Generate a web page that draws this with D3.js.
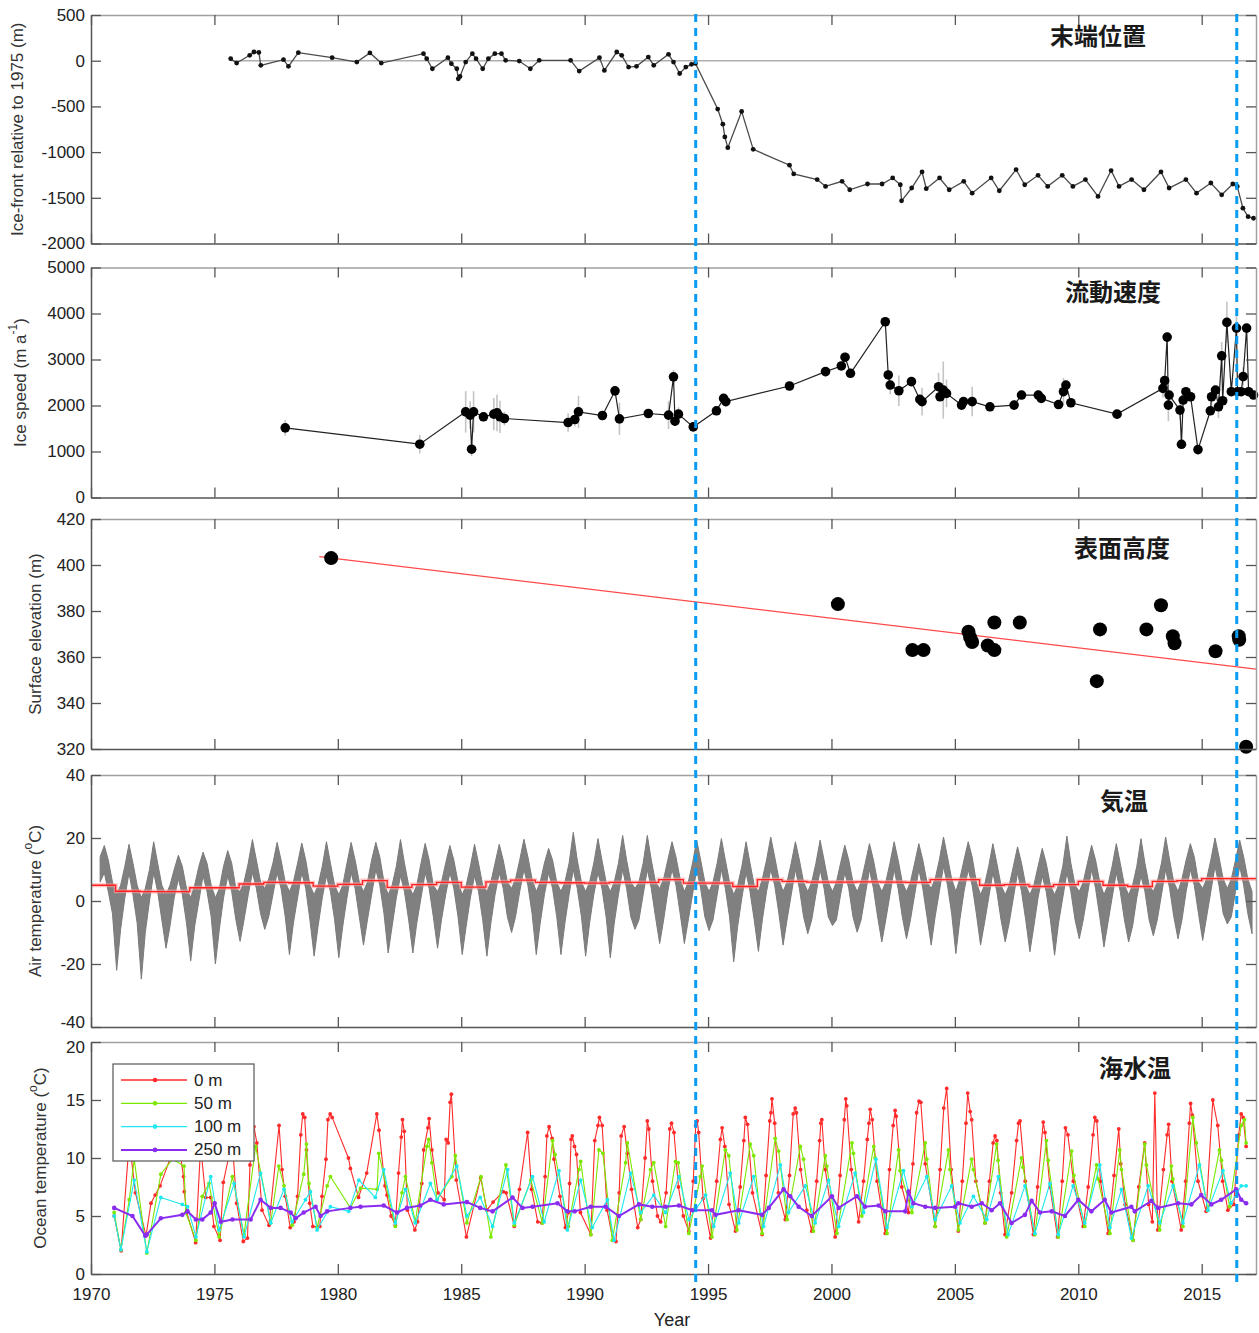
<!DOCTYPE html>
<html>
<head>
<meta charset="utf-8">
<script src="https://cdn.jsdelivr.net/npm/d3@7"></script>
<style>
  body { margin: 0; background: #fff; }
  text { font-family: "Liberation Sans", Arial, Helvetica, sans-serif; }
  .jp { font-family: "Noto Sans CJK JP", "Noto Sans CJK SC", sans-serif; font-weight: 700; }
</style>
</head>
<body>
<svg id="fig" width="1259" height="1333"></svg>
<script>
// ---------- data ----------
const xTickYears = [1970, 1975, 1980, 1985, 1990, 1995, 2000, 2005, 2010, 2015];
const eventYears = [1994.5, 2016.42];

// ice-front position relative to 1975 (m): [year, value]
const iceFront = [
  [1975.66,22],[1975.9,-26],[1976.43,59],[1976.6,95],[1976.8,90],[1976.88,-51],[1977.8,11],[1978.0,-62],
  [1978.4,88],[1979.77,33],[1980.77,-15],[1981.3,85],[1981.76,-26],[1983.47,77],[1983.6,22],[1983.83,-88],
  [1984.46,33],[1984.6,-33],[1984.82,-88],[1984.88,-198],[1984.95,-173],[1985.18,-15],[1985.45,77],[1985.6,22],
  [1985.87,-88],[1986.1,22],[1986.36,77],[1986.63,77],[1986.8,4],[1987.35,-4],[1987.8,-88],[1988.16,4],
  [1989.43,4],[1989.78,-114],[1990.6,33],[1990.8,-106],[1991.3,95],[1991.5,59],[1991.78,-70],[1992.1,-62],
  [1992.58,40],[1992.8,-51],[1993.4,70],[1993.6,-15],[1993.85,-140],[1994.1,-70],[1994.33,-40],[1994.49,-30],
  [1995.39,-529],[1995.6,-695],[1995.68,-834],[1995.8,-952],[1996.36,-555],[1996.83,-970],[1998.3,-1143],
  [1998.47,-1239],[1999.42,-1301],[1999.76,-1375],[2000.43,-1320],[2000.74,-1412],[2001.46,-1349],[2002.05,-1349],
  [2002.48,-1283],[2002.79,-1357],[2002.84,-1533],[2003.25,-1393],[2003.67,-1217],[2003.84,-1400],[2004.38,-1283],
  [2004.77,-1412],[2005.36,-1320],[2005.7,-1449],[2006.47,-1283],[2006.8,-1423],[2007.48,-1191],[2007.83,-1357],
  [2008.37,-1254],[2008.76,-1375],[2009.35,-1254],[2009.78,-1375],[2010.29,-1301],[2010.8,-1485],[2011.33,-1202],
  [2011.65,-1375],[2012.16,-1301],[2012.66,-1412],[2013.35,-1217],[2013.68,-1393],[2014.36,-1301],[2014.79,-1449],
  [2015.37,-1338],[2015.81,-1467],[2016.26,-1349],[2016.44,-1375],[2016.67,-1614],[2016.88,-1706],[2017.1,-1724]
];

// ice speed (m/a): [year, speed, uncertainty]
const iceSpeed = [
  [1977.87,1514,170],[1983.32,1159,200],[1985.18,1862,450],[1985.36,1790,300],[1985.42,1050,150],[1985.5,1862,450],
  [1985.9,1754,100],[1986.32,1812,350],[1986.45,1840,400],[1986.57,1754,350],[1986.75,1717,150],[1989.33,1630,200],
  [1989.6,1696,150],[1989.75,1862,350],[1990.72,1783,100],[1991.23,2319,100],[1991.41,1710,350],[1992.58,1826,100],
  [1993.4,1790,300],[1993.6,2623,150],[1993.66,1659,100],[1993.8,1812,150],[1994.4,1535,100],[1995.34,1885,100],
  [1995.63,2154,100],[1995.72,2085,100],[1998.3,2424,100],[1999.76,2737,100],[2000.4,2860,100],[2000.55,3050,100],
  [2000.77,2700,100],[2002.18,3821,100],[2002.3,2664,100],[2002.38,2445,200],[2002.73,2321,330],[2003.24,2518,100],
  [2003.58,2133,100],[2003.67,2085,300],[2004.34,2409,300],[2004.4,2190,100],[2004.53,2336,620],[2004.66,2263,300],
  [2005.27,2009,100],[2005.35,2085,100],[2005.7,2085,320],[2006.42,1972,100],[2007.4,2009,100],[2007.7,2227,100],
  [2008.38,2227,100],[2008.5,2154,100],[2009.2,2021,100],[2009.4,2300,300],[2009.5,2445,100],[2009.7,2060,100],
  [2011.57,1812,100],[2013.43,2373,200],[2013.5,2540,100],[2013.6,3487,100],[2013.65,2009,350],[2013.68,2227,100],
  [2014.12,1900,200],[2014.18,1157,100],[2014.25,2118,100],[2014.36,2300,100],[2014.55,2190,100],[2014.85,1041,100],
  [2015.35,1885,100],[2015.4,2190,200],[2015.56,2336,100],[2015.68,1972,250],[2015.81,3079,300],[2015.85,2103,100],
  [2016.02,3806,450],[2016.2,2300,100],[2016.41,3683,300],[2016.45,2300,100],[2016.6,2300,100],[2016.68,2630,200],
  [2016.82,3683,100],[2016.9,2300,100],[2017.1,2227,100]
];

// surface elevation (m): [year, elevation]
const surfaceElev = [
  [1979.73,403],[2000.26,383],[2003.28,363],[2003.73,363],[2005.55,371],[2005.62,368.5],[2005.7,366.5],
  [2006.33,365],[2006.6,363],[2006.6,375],[2007.63,375],[2010.75,349.5],[2010.88,372],[2012.76,372],
  [2013.35,382.5],[2013.83,369],[2013.9,366],[2015.56,362.5],[2016.5,369],[2016.52,367.5],[2016.8,321]
];
const elevTrend = [[1979.25, 403.6], [2017.2, 354.7]];

// air temperature: bimonthly [low, high] envelope per year (°C)
const airSlots = [0.04, 0.2, 0.37, 0.54, 0.7, 0.87];
const airFirstYear = 1970;
const airRows = [
  [null,null, null,null, 6,14, 9,17.6, 3,13, -4,6],
  [-22,2, -9,5, 1,11, 9,18, 2,12, -7,5],
  [-24.8,1, -10,4, 0,10, 9,18.8, 3,12, -6,5],
  [-15,2, -8,5, 1,10, 7,14.5, 2,11, -7,4],
  [-19,1, -8,5, 0,11, 8,15.5, 3,12, -5,5],
  [-20,1, -9,4, 1,11, 8,16, 3,12, -6,4],
  [-12.8,3, -6,6, 2,12, 9,19.5, 4,13, -4,6],
  [-9,4, -5,7, 2,12, 9,18.6, 4,13, -5,6],
  [-17,3, -7,6, 1,12, 9,18.4, 4,13, -6,5],
  [-17.5,2, -8,5, 1,11, 8,18.8, 3,12, -6,5],
  [-18,2, -8,5, 1,12, 9,18.6, 4,13, -5,6],
  [-14,3, -6,6, 2,13, 10,18.6, 5,14, -4,6],
  [-16.5,2, -8,5, 1,11, 8,19.5, 3,12, -6,5],
  [-16.5,2, -7,5, 1,12, 9,18.3, 4,13, -5,5],
  [-15,3, -6,6, 2,12, 9,17.6, 4,13, -5,6],
  [-17,2, -8,5, 1,11, 8,18, 3,12, -6,5],
  [-17.5,3, -7,6, 2,12, 9,18, 4,13, -5,6],
  [-10,4, -5,7, 3,13, 10,19.6, 5,14, -4,7],
  [-17,3, -7,6, 2,12, 9,16.7, 4,13, -5,6],
  [-17,3, -7,6, 2,12, 10,21.8, 4,13, -5,6],
  [-17.5,3, -7,6, 2,12, 9,19.8, 4,13, -5,6],
  [-18,3, -7,6, 2,12, 10,20.8, 4,13, -5,6],
  [-9,4, -6,6, 2,12, 10,20.8, 4,13, -5,6],
  [-13.5,4, -6,7, 3,13, 10,18.8, 5,14, -4,7],
  [-13.5,3, -6,6, 2,12, 10,19.3, 4,13, -5,6],
  [-9.4,3, -6,6, 2,12, 10,19.8, 4,13, -5,6],
  [-19.3,2, -8,5, 1,11, 9,18.8, 3,12, -6,5],
  [-16,3, -6,7, 3,13, 10,20.3, 5,14, -4,7],
  [-14,3, -6,6, 2,12, 10,18.8, 4,13, -5,6],
  [-10.4,3, -6,6, 2,12, 10,19.3, 4,13, -5,6],
  [-7.8,3, -6,6, 2,12, 9,17.7, 4,13, -5,6],
  [-9.9,3, -6,6, 2,12, 10,18.2, 4,13, -5,6],
  [-13,3, -6,6, 2,12, 10,18.8, 4,13, -5,6],
  [-12,3, -6,6, 2,12, 10,18.2, 4,13, -5,6],
  [-14,4, -5,7, 3,13, 11,20.3, 5,14, -4,7],
  [-16.7,3, -6,7, 3,13, 10,18.8, 5,14, -4,6],
  [-14,2, -7,5, 1,11, 9,18.2, 3,12, -6,5],
  [-13,2, -7,5, 1,11, 9,17.2, 3,12, -6,5],
  [-16.1,2, -8,5, 1,11, 8,16.7, 3,12, -6,5],
  [-17.2,2, -7,5, 1,11, 9,20.6, 3,12, -6,5],
  [-12,3, -6,6, 2,12, 10,17.7, 4,13, -5,6],
  [-14.6,2, -7,5, 1,11, 9,18.2, 3,12, -6,5],
  [-13,2, -8,5, 1,11, 8,19.8, 3,12, -6,5],
  [-11,3, -6,6, 2,12, 10,20.3, 4,13, -5,6],
  [-12,3, -6,7, 3,13, 10,18.2, 5,14, -4,6],
  [-12.5,4, -5,7, 3,13, 11,20, 5,14, -4,7],
  [-7.3,4, -5,7, 3,13, 11,19.3, 5,14, -4,7],
  [-10.4,3, null,null, null,null, null,null, null,null, null,null]
];
// annual mean air temperature (°C), 1970 onward
const airMean = [5.0,3.1,3.0,3.0,4.2,4.2,5.4,5.9,5.8,4.7,5.3,6.5,4.3,5.2,5.9,4.4,6.1,6.6,5.9,5.8,
  5.7,5.9,5.9,6.8,5.7,5.7,4.6,6.8,6.2,6.0,6.0,6.1,6.0,5.9,6.8,6.8,5.0,5.2,4.6,5.2,6.2,5.0,4.6,6.2,6.5,7.1,7.1];

// ocean temperature (°C) at four depths: [year, value]
const ocean0 = [
  [1970.94,5.0],[1971.22,2.0],[1971.55,11.5],[1971.8,7.0],[1972.23,3.3],[1972.43,6.1],[1972.6,6.8],[1972.8,7.6],
  [1973.25,10.2],[1973.5,12.0],[1973.75,8.4],[1973.78,7.1],[1973.88,5.3],[1974.24,2.7],[1974.44,11.0],[1974.65,6.6],
  [1974.85,6.6],[1974.98,4.1],[1975.23,2.9],[1975.36,7.9],[1975.56,9.9],[1975.76,10.3],[1975.9,6.1],[1976.17,2.8],
  [1976.34,3.1],[1976.44,9.4],[1976.6,12.7],[1976.72,11.3],[1976.93,5.5],[1977.21,4.2],[1977.62,12.8],[1977.74,9.0],
  [1977.87,6.7],[1978.07,4.0],[1978.23,4.5],[1978.37,6.7],[1978.5,12.0],[1978.58,13.8],[1978.66,13.5],[1978.73,10.7],
  [1978.86,6.1],[1978.99,4.1],[1979.27,4.1],[1979.36,6.7],[1979.52,9.9],[1979.6,13.3],[1979.69,13.8],[1979.77,13.5],
  [1980.43,10.0],[1980.51,9.1],[1980.84,6.6],[1981.17,8.7],[1981.58,13.8],[1981.67,12.4],[1981.91,7.6],[1981.99,6.8],
  [1982.16,5.0],[1982.33,4.2],[1982.46,8.7],[1982.57,11.8],[1982.62,13.3],[1982.69,12.3],[1982.82,5.5],[1983.12,3.8],
  [1983.23,4.5],[1983.4,7.8],[1983.48,10.7],[1983.65,12.6],[1983.7,13.4],[1983.81,10.7],[1984.06,7.0],[1984.31,6.4],
  [1984.39,11.6],[1984.47,11.3],[1984.55,14.8],[1984.6,15.5],[1984.8,8.1],[1985.21,3.2],[1985.79,8.3],[1986.04,5.5],
  [1986.29,6.2],[1986.7,7.1],[1986.82,7.0],[1987.15,4.1],[1987.36,7.3],[1987.69,12.2],[1987.85,7.3],[1988.1,4.5],
  [1988.27,4.4],[1988.4,8.4],[1988.47,11.9],[1988.56,12.7],[1988.68,11.7],[1988.76,9.9],[1989.0,6.7],[1989.22,4.0],
  [1989.34,5.3],[1989.39,7.8],[1989.45,11.6],[1989.5,11.9],[1989.59,11.0],[1989.67,10.3],[1989.83,5.3],[1990.25,3.4],
  [1990.41,11.5],[1990.54,12.8],[1990.6,13.5],[1990.71,12.8],[1990.91,5.5],[1991.15,2.9],[1991.27,2.8],[1991.4,7.0],
  [1991.48,11.9],[1991.6,12.7],[1991.73,10.4],[1991.9,7.3],[1992.15,4.0],[1992.27,4.7],[1992.45,10.0],[1992.54,13.2],
  [1992.6,12.5],[1992.75,8.0],[1992.95,5.0],[1993.08,4.5],[1993.3,7.0],[1993.45,12.5],[1993.52,13.0],[1993.62,12.2],
  [1993.8,7.5],[1994.0,5.0],[1994.22,3.7],[1994.4,8.0],[1994.5,12.8],[1994.56,13.2],[1994.62,12.2],[1994.8,6.5],
  [1995.1,3.1],[1995.35,8.0],[1995.5,11.6],[1995.57,12.6],[1995.68,11.0],[1995.85,6.0],[1996.11,3.7],[1996.3,7.5],
  [1996.45,11.5],[1996.51,13.5],[1996.6,12.9],[1996.8,7.0],[1997.19,3.4],[1997.35,8.5],[1997.5,13.2],[1997.55,13.9],
  [1997.59,15.1],[1997.7,13.0],[1997.85,7.0],[1998.13,4.7],[1998.3,8.5],[1998.45,13.8],[1998.53,14.3],[1998.58,13.9],
  [1998.75,9.0],[1999.0,5.5],[1999.2,3.7],[1999.4,8.0],[1999.52,11.5],[1999.57,13.0],[1999.61,13.3],[1999.75,9.0],
  [2000.15,3.2],[2000.35,8.5],[2000.52,13.3],[2000.58,15.1],[2000.62,14.5],[2000.8,9.0],[2001.1,4.5],[2001.3,8.0],
  [2001.45,11.6],[2001.52,13.0],[2001.57,14.2],[2001.65,13.3],[2001.85,8.0],[2002.18,3.5],[2002.35,9.0],[2002.5,12.8],
  [2002.58,14.1],[2002.62,13.6],[2002.85,7.5],[2003.12,5.3],[2003.3,9.5],[2003.45,13.9],[2003.55,14.9],[2003.62,14.8],
  [2003.8,9.5],[2004.2,4.1],[2004.4,9.0],[2004.55,14.3],[2004.67,16.0],[2004.85,9.0],[2005.14,3.7],[2005.3,8.0],
  [2005.45,13.0],[2005.52,15.6],[2005.62,14.0],[2005.68,13.3],[2005.85,8.0],[2006.22,4.4],[2006.4,8.0],[2006.55,11.3],
  [2006.63,11.9],[2006.7,11.5],[2006.85,7.0],[2007.03,3.4],[2007.3,7.0],[2007.5,11.5],[2007.58,13.0],[2007.64,13.2],
  [2007.85,8.0],[2008.18,3.4],[2008.35,7.5],[2008.58,13.1],[2008.65,12.2],[2008.85,7.5],[2009.16,3.2],[2009.35,8.0],
  [2009.48,12.6],[2009.58,12.0],[2009.8,8.0],[2010.2,4.1],[2010.4,7.5],[2010.6,12.0],[2010.67,13.5],[2010.75,13.2],
  [2010.9,8.0],[2011.21,3.5],[2011.45,8.5],[2011.64,12.5],[2011.72,9.5],[2011.9,6.0],[2012.22,2.9],[2012.45,7.5],
  [2012.69,11.3],[2012.85,6.0],[2013.0,4.5],[2013.1,15.6],[2013.22,3.8],[2013.45,9.0],[2013.6,12.0],[2013.66,12.9],
  [2013.8,8.0],[2014.17,3.8],[2014.35,8.0],[2014.5,13.0],[2014.55,14.7],[2014.62,13.7],[2014.85,8.0],[2015.18,5.4],
  [2015.45,15.0],[2015.65,12.8],[2015.85,8.0],[2016.06,5.5],[2016.3,6.0],[2016.5,12.0],[2016.6,13.8],[2016.68,13.5],
  [2016.8,11.0]
];
const ocean50 = [
  [1970.94,5.3],[1971.21,2.1],[1971.55,6.4],[1971.75,9.9],[1972.26,1.8],[1972.83,8.6],[1973.3,9.9],[1973.77,9.3],
  [1973.84,5.3],[1974.25,2.9],[1974.51,6.7],[1974.78,7.8],[1975.19,3.2],[1975.73,8.4],[1976.2,3.4],[1976.67,11.0],
  [1977.28,4.4],[1977.61,9.3],[1977.82,7.6],[1978.15,4.2],[1978.62,8.6],[1978.73,11.2],[1978.83,7.8],[1979.16,4.0],
  [1979.57,7.6],[1979.7,8.4],[1980.51,5.7],[1980.92,7.4],[1981.59,7.3],[1981.66,10.4],[1982.33,4.1],[1982.6,7.0],
  [1982.74,8.4],[1983.14,4.5],[1983.61,11.0],[1983.68,11.6],[1983.81,9.6],[1984.02,6.4],[1984.62,8.4],[1984.76,10.2],
  [1985.23,4.4],[1985.8,8.4],[1986.2,3.2],[1986.81,9.4],[1987.15,4.2],[1987.82,8.1],[1988.29,4.4],[1988.7,11.5],
  [1988.8,10.3],[1989.34,4.1],[1989.77,9.0],[1989.84,9.7],[1990.25,3.4],[1990.58,10.7],[1990.74,10.4],[1991.12,2.9],
  [1991.66,9.6],[1991.73,11.3],[1992.27,4.7],[1992.67,9.0],[1992.8,9.6],[1993.28,4.1],[1993.68,9.7],[1993.79,9.6],
  [1994.22,3.5],[1994.69,8.4],[1994.76,9.3],[1995.16,3.2],[1995.7,10.7],[1995.84,10.2],[1996.17,3.8],[1996.71,11.2],
  [1996.85,10.2],[1997.19,3.5],[1997.72,11.7],[1997.86,10.6],[1998.2,4.7],[1998.74,11.0],[1998.87,9.9],[1999.27,3.7],
  [1999.75,10.2],[1999.81,9.3],[2000.22,3.5],[2000.83,11.3],[2000.89,10.4],[2001.23,5.0],[2001.71,11.0],[2001.77,10.0],
  [2002.25,3.5],[2002.72,10.7],[2002.78,8.9],[2003.26,5.3],[2003.8,11.3],[2003.86,9.9],[2004.2,4.1],[2004.74,10.7],
  [2004.8,9.0],[2005.14,3.8],[2005.68,9.9],[2005.75,9.0],[2006.22,4.4],[2006.69,11.2],[2006.75,9.8],[2007.1,3.2],
  [2007.7,10.0],[2007.76,9.2],[2008.24,3.4],[2008.71,11.5],[2008.78,9.8],[2009.19,3.2],[2009.73,10.6],[2009.82,8.5],
  [2010.26,4.1],[2010.74,9.4],[2010.8,8.2],[2011.28,3.5],[2011.68,10.7],[2011.75,9.0],[2012.22,2.9],[2012.69,11.2],
  [2012.76,9.4],[2013.3,3.8],[2013.77,9.3],[2013.83,8.2],[2014.24,4.1],[2014.64,13.5],[2014.78,11.3],[2015.25,5.5],
  [2015.72,10.7],[2015.8,9.8],[2016.13,5.8],[2016.6,12.8],[2016.73,13.3],[2016.8,11.3]
];
const ocean100 = [
  [1970.94,5.0],[1971.21,2.1],[1971.75,8.1],[1972.26,1.9],[1972.83,6.6],[1973.7,6.0],[1973.91,5.8],[1974.25,3.2],
  [1974.85,8.4],[1975.19,3.8],[1975.8,7.8],[1976.2,3.2],[1976.87,8.7],[1977.28,4.4],[1977.82,7.3],[1978.15,4.5],
  [1978.69,6.4],[1978.89,7.1],[1979.16,3.8],[1979.7,5.8],[1980.44,5.4],[1980.85,8.1],[1981.52,6.6],[1981.86,9.0],
  [1982.33,4.4],[1982.74,7.3],[1983.14,4.4],[1983.75,7.8],[1984.02,6.4],[1984.82,9.3],[1985.23,5.0],[1985.77,6.6],
  [1986.27,4.1],[1986.88,9.0],[1987.15,4.4],[1987.89,8.4],[1988.36,4.5],[1988.96,8.9],[1989.3,3.8],[1989.84,8.1],
  [1990.31,4.0],[1990.92,6.4],[1991.19,2.9],[1991.86,8.7],[1992.27,5.3],[1992.8,6.8],[1993.28,5.3],[1993.82,8.4],
  [1994.22,4.7],[1994.9,6.8],[1995.23,4.1],[1995.9,8.7],[1996.24,4.4],[1996.85,8.4],[1997.25,4.1],[1997.93,9.4],
  [1998.26,5.3],[1998.94,7.6],[1999.34,4.4],[1999.88,8.1],[2000.29,4.1],[2000.96,8.7],[2001.3,5.3],[2001.8,9.9],
  [2002.25,4.0],[2002.92,8.9],[2003.26,5.8],[2003.86,8.4],[2004.2,4.7],[2004.87,7.6],[2005.21,4.4],[2005.75,6.7],
  [2006.29,4.7],[2006.76,8.4],[2007.16,3.4],[2007.84,7.6],[2008.24,3.5],[2008.85,7.8],[2009.19,3.4],[2009.79,7.6],
  [2010.26,4.4],[2010.87,9.4],[2011.28,4.0],[2011.75,7.3],[2012.15,3.1],[2012.83,7.6],[2013.3,4.4],[2013.84,7.6],
  [2014.24,4.4],[2014.91,9.4],[2015.25,5.5],[2015.86,8.9],[2016.19,6.1],[2016.6,7.6],[2016.8,7.6]
];
const ocean250 = [
  [1970.94,5.7],[1971.68,5.0],[1972.2,3.3],[1972.26,3.4],[1972.83,4.8],[1973.7,5.1],[1973.91,5.4],[1974.25,4.7],
  [1974.51,4.7],[1974.85,5.3],[1975.01,6.1],[1975.26,4.5],[1975.73,4.7],[1976.47,4.7],[1976.87,6.4],[1977.28,5.7],
  [1977.68,5.7],[1978.09,5.3],[1978.29,4.8],[1978.62,5.3],[1979.1,5.8],[1979.3,5.0],[1979.57,5.4],[1980.51,5.7],
  [1980.92,5.8],[1981.86,5.9],[1982.4,5.3],[1982.8,5.7],[1983.34,5.9],[1983.75,6.4],[1984.29,6.0],[1985.23,6.2],
  [1985.77,5.7],[1986.27,5.4],[1987.08,6.6],[1987.48,5.7],[1987.89,5.8],[1988.9,6.1],[1989.3,5.4],[1989.6,5.4],
  [1990.25,5.8],[1990.85,5.8],[1991.39,5.0],[1992.2,6.0],[1992.74,5.8],[1993.28,5.8],[1993.82,5.9],[1994.36,5.5],
  [1995.16,5.5],[1995.3,5.1],[1996.24,5.5],[1997.19,5.1],[1997.46,5.7],[1998.06,7.3],[1998.33,6.7],[1998.67,5.8],
  [1999.2,5.0],[2000.02,6.7],[2000.29,5.7],[2001.03,6.7],[2001.36,5.8],[2001.91,5.9],[2002.18,5.4],[2002.99,5.4],
  [2003.12,7.1],[2003.32,6.1],[2003.8,5.8],[2004.2,5.7],[2005.01,5.8],[2005.14,6.1],[2005.68,5.8],[2006.09,6.1],
  [2006.49,5.5],[2006.83,6.1],[2007.3,4.4],[2007.84,5.1],[2008.11,6.3],[2008.45,5.3],[2008.92,5.4],[2009.46,5.0],
  [2010.0,6.4],[2010.53,5.4],[2011.07,6.4],[2011.34,5.3],[2012.15,5.8],[2012.29,5.4],[2012.96,6.3],[2013.23,5.7],
  [2014.04,6.1],[2014.58,6.0],[2014.98,6.8],[2015.39,6.0],[2015.79,6.4],[2016.4,7.3],[2016.6,6.4],[2016.8,6.1]
];
const oceanNames = ["0 m", "50 m", "100 m", "250 m"];
const oceanColors = ["#ff2a2a", "#7de800", "#1ee8f0", "#8a2cf0"];

// ---------- layout ----------
const svg = d3.select("#fig");
const x = d3.scaleLinear().domain([1970, 2017.2]).range([91, 1256]);
const [xL, xR] = x.range();

const panels = [
  { top: 15,   bottom: 243.5, domain: [-2000, 500], ticks: d3.range(-2000, 501, 500), title: "末端位置", tx: 1098, ty: 34,
    label: [{t: "Ice-front relative to 1975 (m)"}], lx: 17 },
  { top: 267.5, bottom: 497.5, domain: [0, 5000], ticks: d3.range(0, 5001, 1000), title: "流動速度", tx: 1113, ty: 290,
    label: [{t: "Ice speed (m a"}, {t: "-1", sup: true}, {t: ")"}], lx: 20 },
  { top: 519, bottom: 749, domain: [320, 420], ticks: d3.range(320, 421, 20), title: "表面高度", tx: 1122, ty: 546,
    label: [{t: "Surface elevation (m)"}], lx: 35 },
  { top: 775, bottom: 1027, domain: [-40, 40], ticks: d3.range(-40, 41, 20), title: "気温", tx: 1124, ty: 799,
    label: [{t: "Air temperature ("}, {t: "o", sup: true}, {t: "C)"}], lx: 35 },
  { top: 1042, bottom: 1274, domain: [0, 20], ticks: d3.range(0, 21, 5), title: "海水温", tx: 1135, ty: 1066,
    label: [{t: "Ocean temperature ("}, {t: "o", sup: true}, {t: "C)"}], lx: 40 }
];
panels.forEach(p => { p.y = d3.scaleLinear().domain(p.domain).range([p.bottom, p.top]); });

function styleAxis(g, color) {
  g.select(".domain").attr("stroke", color).attr("stroke-width", 1.5);
  g.selectAll(".tick line").attr("stroke", "#555").attr("stroke-width", 1.3);
  g.selectAll(".tick text").attr("fill", "#222").attr("font-size", 17);
}

function drawFrame(p, showX) {
  const g = svg.append("g");
  g.append("g").attr("transform", `translate(0,${p.top})`)
    .call(d3.axisTop(x).tickValues(xTickYears).tickSizeInner(-10).tickSizeOuter(0).tickFormat(""))
    .call(a => styleAxis(a, "#a0a0a0"));
  g.append("g").attr("transform", `translate(${xR},0)`)
    .call(d3.axisRight(p.y).tickValues(p.ticks).tickSizeInner(-10).tickSizeOuter(0).tickFormat(""))
    .call(a => styleAxis(a, "#a0a0a0"));
  g.append("g").attr("transform", `translate(0,${p.bottom})`)
    .call(d3.axisBottom(x).tickValues(xTickYears).tickSizeInner(-10).tickSizeOuter(0).tickPadding(14)
      .tickFormat(showX ? (d => String(d)) : ""))
    .call(a => styleAxis(a, "#555"));
  p.leftAxis = g.append("g").attr("transform", `translate(${xL},0)`)
    .call(d3.axisLeft(p.y).tickValues(p.ticks).tickSizeInner(-10).tickSizeOuter(0).tickPadding(6)
      .tickFormat(d => String(d)))
    .call(a => styleAxis(a, "#555"));

  // rotated axis title
  const cy = (p.top + p.bottom) / 2;
  const t = svg.append("text")
    .attr("transform", `translate(${p.lx},${cy}) rotate(-90)`)
    .attr("text-anchor", "middle").attr("dominant-baseline", "central")
    .attr("font-size", 17).attr("fill", "#333");
  p.label.forEach(s => {
    if (s.sup) {
      t.append("tspan").attr("font-size", 12).attr("dy", -7).text(s.t);
    } else {
      const ts = t.append("tspan").text(s.t);
      if (t.selectAll("tspan").size() > 1) ts.attr("dy", 7);
    }
  });

  // panel caption
  svg.append("text").attr("class", "jp")
    .attr("x", p.tx).attr("y", p.ty)
    .attr("text-anchor", "middle").attr("dominant-baseline", "central")
    .attr("font-size", 24).attr("fill", "#1a1a1a").text(p.title);
}

// ---------- panel 1: ice-front position ----------
{
  const p = panels[0], y = p.y;
  svg.append("line")
    .attr("x1", x(iceFront[0][0])).attr("x2", xR)
    .attr("y1", y(0)).attr("y2", y(0))
    .attr("stroke", "#b0b0b0").attr("stroke-width", 1.5);
  svg.append("path").datum(iceFront)
    .attr("d", d3.line().x(d => x(d[0])).y(d => y(d[1])))
    .attr("fill", "none").attr("stroke", "#4a4a4a").attr("stroke-width", 1.3);
  svg.append("g").selectAll("circle").data(iceFront).join("circle")
    .attr("cx", d => x(d[0])).attr("cy", d => y(d[1])).attr("r", 2.4).attr("fill", "#111");
}

// ---------- panel 2: ice speed ----------
{
  const p = panels[1], y = p.y;
  svg.append("g").selectAll("line").data(iceSpeed).join("line")
    .attr("x1", d => x(d[0])).attr("x2", d => x(d[0]))
    .attr("y1", d => y(d[1] - d[2])).attr("y2", d => y(d[1] + d[2]))
    .attr("stroke", "#c4c4c4").attr("stroke-width", 1.6);
  svg.append("path").datum(iceSpeed)
    .attr("d", d3.line().x(d => x(d[0])).y(d => y(d[1])))
    .attr("fill", "none").attr("stroke", "#222").attr("stroke-width", 1.2);
  svg.append("g").selectAll("circle").data(iceSpeed).join("circle")
    .attr("cx", d => x(d[0])).attr("cy", d => y(d[1])).attr("r", 4.8).attr("fill", "#000");
}

// ---------- panel 3: surface elevation ----------
{
  const p = panels[2], y = p.y;
  svg.append("path").datum(elevTrend)
    .attr("d", d3.line().x(d => x(d[0])).y(d => y(d[1])))
    .attr("fill", "none").attr("stroke", "#ff4a4a").attr("stroke-width", 1.3);
  svg.append("g").selectAll("circle").data(surfaceElev).join("circle")
    .attr("cx", d => x(d[0])).attr("cy", d => y(d[1])).attr("r", 7).attr("fill", "#000");
}

// ---------- panel 4: air temperature ----------
{
  const p = panels[3], y = p.y;
  const pts = [];
  airRows.forEach((row, i) => {
    airSlots.forEach((off, k) => {
      if (row[2 * k] != null) pts.push({ t: airFirstYear + i + off, lo: row[2 * k], hi: row[2 * k + 1] });
    });
  });
  svg.append("defs").append("clipPath").attr("id", "airClip")
    .append("rect").attr("x", xL).attr("y", p.top).attr("width", xR - xL).attr("height", p.bottom - p.top);
  const g = svg.append("g").attr("clip-path", "url(#airClip)");
  g.append("path").datum(pts)
    .attr("d", d3.area().x(d => x(d.t)).y0(d => y(d.lo)).y1(d => y(d.hi)))
    .attr("fill", "#808080").attr("stroke", "#7a7a7a").attr("stroke-width", 1);

  const steps = airMean.map((v, i) => [airFirstYear + i, v]);
  steps.push([2017.2, airMean[airMean.length - 1]]);
  const stepLine = d3.line().curve(d3.curveStepAfter).x(d => x(d[0])).y(d => y(d[1]));
  g.append("path").datum(steps).attr("d", stepLine)
    .attr("fill", "none").attr("stroke", "#ff9c9c").attr("stroke-width", 4).attr("opacity", 0.6);
  g.append("path").datum(steps).attr("d", stepLine)
    .attr("fill", "none").attr("stroke", "#ff2020").attr("stroke-width", 1.3);
}

// ---------- panel 5: ocean temperature ----------
{
  const p = panels[4], y = p.y;
  const series = [ocean0, ocean50, ocean100, ocean250];
  series.forEach((s, i) => {
    svg.append("path").datum(s)
      .attr("d", d3.line().x(d => x(d[0])).y(d => y(d[1])))
      .attr("fill", "none").attr("stroke", oceanColors[i]).attr("stroke-width", i === 3 ? 2 : 1.1);
    svg.append("g").selectAll("circle").data(s).join("circle")
      .attr("cx", d => x(d[0])).attr("cy", d => y(d[1])).attr("r", i === 3 ? 2.3 : 1.9)
      .attr("fill", oceanColors[i]);
  });

  // legend
  const lg = svg.append("g").attr("transform", "translate(113,1064)");
  lg.append("rect").attr("width", 141).attr("height", 97).attr("fill", "#fff")
    .attr("stroke", "#555").attr("stroke-width", 1.2);
  oceanNames.forEach((name, i) => {
    const ry = 16 + i * 23.3;
    lg.append("line").attr("x1", 8).attr("x2", 74).attr("y1", ry).attr("y2", ry)
      .attr("stroke", oceanColors[i]).attr("stroke-width", i === 3 ? 2 : 1.3);
    lg.append("circle").attr("cx", 42).attr("cy", ry).attr("r", 2.3).attr("fill", oceanColors[i]);
    lg.append("text").attr("x", 81).attr("y", ry).attr("dominant-baseline", "central")
      .attr("font-size", 17).attr("fill", "#222").text(name);
  });
}

// ---------- frames, labels ----------
panels.forEach((p, i) => drawFrame(p, i === panels.length - 1));

// the air panel's lowest label and the ocean panel's highest label sit close together
panels[3].leftAxis.selectAll(".tick text").filter(d => d === -40).attr("dy", "0.05em");
panels[4].leftAxis.selectAll(".tick text").filter(d => d === 20).attr("dy", "0.6em");

svg.append("text").attr("x", 672).attr("y", 1320).attr("text-anchor", "middle")
  .attr("dominant-baseline", "central").attr("font-size", 18).attr("fill", "#222").text("Year");

// ---------- event markers ----------
svg.append("g").selectAll("line").data(eventYears).join("line")
  .attr("x1", d => x(d)).attr("x2", d => x(d)).attr("y1", 14).attr("y2", 1286)
  .attr("stroke", "#0a9cf2").attr("stroke-width", 3).attr("stroke-dasharray", "8,6");
</script>
</body>
</html>
